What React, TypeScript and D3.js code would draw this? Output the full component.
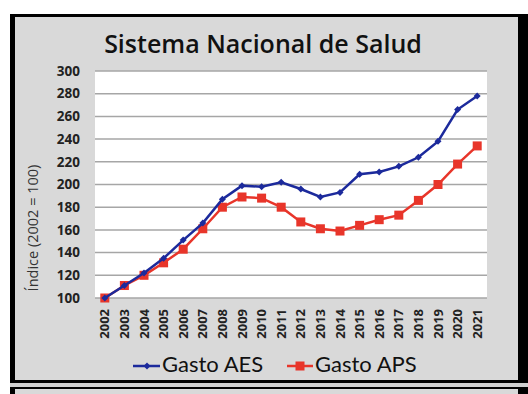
import React from 'react'
import * as d3 from 'd3'

const years = ['2002', '2003', '2004', '2005', '2006', '2007', '2008', '2009', '2010', '2011',
  '2012', '2013', '2014', '2015', '2016', '2017', '2018', '2019', '2020', '2021']
const gastoAES = [100, 111, 122, 135, 151, 166, 187, 199, 198, 202, 196, 189, 193, 209, 211, 216, 224, 238, 266, 278]
const gastoAPS = [100, 111, 120, 131, 143, 161, 180, 189, 188, 180, 167, 161, 159, 164, 169, 173, 186, 200, 218, 234]
const yTicks = [100, 120, 140, 160, 180, 200, 220, 240, 260, 280, 300]

const W = 528
const H = 394
const font = '"Open Sans", Lato, sans-serif'
const legendFont = 'Lato, "Open Sans", sans-serif'
const blue = '#1c2a9c'
const red = '#e8352a'

const App = () => {
  const plot = { left: 95, right: 487, top: 71, bottom: 298 }

  const x = d3.scaleBand().domain(years).range([plot.left, plot.right])
  const cx = (d: string) => (x(d) as number) + x.bandwidth() / 2
  const y = d3.scaleLinear().domain([100, 300]).range([plot.bottom, plot.top])

  const line = d3.line<number>()
    .x((d, i) => cx(years[i]))
    .y(d => y(d))

  const diamond = (px: number, py: number, r: number) =>
    `M${px},${py - r}L${px + r},${py}L${px},${py + r}L${px - r},${py}Z`

  return (
    <svg width={W} height={H} style={{ position: 'absolute', left: 0, top: 0, background: '#fff' }}>
      {/* frames */}
      <rect x={10} y={14} width={518} height={380} fill="#000" />
      <rect x={15} y={17} width={503} height={363} fill="#d9d9d9" />
      <rect x={10} y={383} width={518} height={4} fill="#cfcfcf" />
      <rect x={15} y={389} width={503} height={5} fill="#d9d9d9" />

      <text x={263} y={53} textAnchor="middle" fontFamily={font} fontSize={25} fontWeight={600} fill="#111">
        Sistema Nacional de Salud
      </text>

      <rect x={plot.left} y={plot.top} width={plot.right - plot.left} height={plot.bottom - plot.top} fill="#fff" />
      {yTicks.map(t => (
        <g key={t}>
          <line x1={plot.left} x2={plot.right} y1={y(t)} y2={y(t)} stroke="#a6a6a6" strokeWidth={1.5} />
          <text x={80} y={y(t)} dy="0.35em" textAnchor="end" fontFamily={font} fontSize={13.5} fontWeight="bold" fill="#222">
            {t}
          </text>
        </g>
      ))}

      {years.map(yr => (
        <text key={yr} transform={`translate(${cx(yr)},309) rotate(-90)`} dy="0.35em" textAnchor="end"
          fontFamily={font} fontSize={13} fontWeight="bold" fill="#222">
          {yr}
        </text>
      ))}

      <text transform="translate(33,228) rotate(-90)" dy="0.35em" textAnchor="middle" fontFamily={font} fontSize={14.5} fill="#333">
        Índice (2002 = 100)
      </text>

      {/* series */}
      <path d={line(gastoAPS) ?? ''} fill="none" stroke={red} strokeWidth={2.5} />
      {gastoAPS.map((v, i) => (
        <rect key={i} x={cx(years[i]) - 4.5} y={y(v) - 4.5} width={9} height={9} fill={red} />
      ))}
      <path d={line(gastoAES) ?? ''} fill="none" stroke={blue} strokeWidth={2.5} />
      {gastoAES.map((v, i) => (
        <path key={i} d={diamond(cx(years[i]), y(v), 3.5)} fill={blue} />
      ))}

      {/* legend */}
      <line x1={133} x2={160} y1={366} y2={366} stroke={blue} strokeWidth={2.5} />
      <path d={diamond(147, 366, 3.5)} fill={blue} />
      <text x={162} y={372} fontFamily={legendFont} fontSize={22} fill="#111">Gasto AES</text>
      <line x1={287} x2={313} y1={366} y2={366} stroke={red} strokeWidth={2.5} />
      <rect x={295.5} y={361.5} width={9} height={9} fill={red} />
      <text x={315} y={372} fontFamily={legendFont} fontSize={22} fill="#111">Gasto APS</text>
    </svg>
  )
}

export default App
